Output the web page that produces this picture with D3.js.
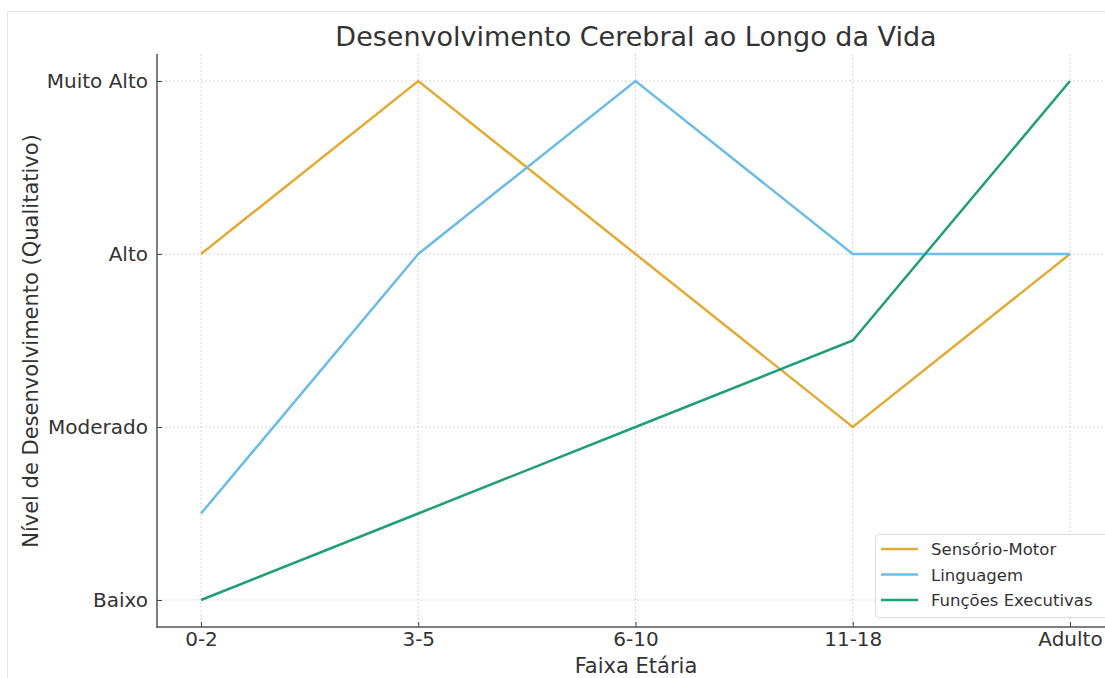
<!DOCTYPE html>
<html><head><meta charset="utf-8">
<script src="https://cdn.jsdelivr.net/npm/d3@7"></script>
<style>body{margin:0;background:#fff;font-family:"DejaVu Sans",sans-serif;}</style>
</head><body>
<svg id="chart" width="1105" height="678"></svg>
<script>
const categories = ["0-2","3-5","6-10","11-18","Adulto"];
const levelLabels = ["Baixo","Moderado","Alto","Muito Alto"];
const levelValues = [1,2,3,4];
const sensorioMotor = [3,4,3,2,3];
const linguagem = [1.5,3,4,3,3];
const funcoesExecutivas = [1,1.5,2,2.5,4];
const seriesNames = ["Sensório-Motor","Linguagem","Funções Executivas"];
const seriesColors = ["#E3AB35","#6BBCE6","#1F9E78"];

(function(){
const series = [sensorioMotor, linguagem, funcoesExecutivas].map((v,i)=>({name:seriesNames[i], color:seriesColors[i], values:v}));

const svg = d3.select("#chart");
svg.append("rect").attr("x",7.5).attr("y",11.5).attr("width",1110).attr("height",680)
  .attr("fill","none").attr("stroke","#e6e6e6");

const x = d3.scalePoint().domain(categories).range([201,1070]);
const y = d3.scaleLinear().domain([1,4]).range([600,81]);

const pLeft = 157, pBottom = 627, pTop = 54, pRight = 1105;

const g = svg.append("g");
g.selectAll(".vg").data(categories).join("line")
  .attr("x1",d=>x(d)).attr("x2",d=>x(d)).attr("y1",pTop).attr("y2",pBottom)
  .attr("stroke","#d6d6d6").attr("stroke-dasharray","2,2").attr("stroke-width",1);
g.selectAll(".hg").data(levelValues).join("line")
  .attr("y1",d=>y(d)).attr("y2",d=>y(d)).attr("x1",pLeft).attr("x2",pRight)
  .attr("stroke","#d6d6d6").attr("stroke-dasharray","2,2").attr("stroke-width",1);

const line = d3.line().x((d,i)=>x(categories[i])).y(d=>y(d));
svg.selectAll(".series").data(series).join("path")
  .attr("d",d=>line(d.values)).attr("fill","none")
  .attr("stroke",d=>d.color).attr("stroke-width",2.5).attr("stroke-linejoin","miter");

const yAxis = d3.axisLeft(y).tickValues(levelValues).tickFormat((d,i)=>levelLabels[i]).tickSize(-5).tickPadding(9);
const ya = svg.append("g").attr("transform",`translate(${pLeft},0)`).call(yAxis);
ya.select(".domain").remove();
ya.selectAll("text").attr("font-size",20).attr("fill","#333").attr("font-family","DejaVu Sans");
ya.selectAll("line").attr("stroke","#444");
svg.append("line").attr("x1",pLeft).attr("x2",pLeft).attr("y1",pTop).attr("y2",pBottom+1).attr("stroke","#555").attr("stroke-width",1.5);

const xAxis = d3.axisBottom(x).tickSize(-5).tickPadding(5);
const xa = svg.append("g").attr("transform",`translate(0,${pBottom})`).call(xAxis);
xa.select(".domain").remove();
xa.selectAll("text").attr("font-size",20).attr("fill","#333").attr("font-family","DejaVu Sans");
xa.selectAll("line").attr("stroke","#444");
svg.append("line").attr("x1",pLeft).attr("x2",pRight).attr("y1",pBottom).attr("y2",pBottom).attr("stroke","#555").attr("stroke-width",1.5);

svg.append("text").attr("x",636).attr("y",46).attr("text-anchor","middle")
  .attr("font-size",27).attr("fill","#333").text("Desenvolvimento Cerebral ao Longo da Vida");
svg.append("text").attr("x",636).attr("y",673).attr("text-anchor","middle")
  .attr("font-size",21).attr("fill","#333").text("Faixa Etária");
svg.append("text").attr("transform","translate(38,341) rotate(-90)").attr("text-anchor","middle")
  .attr("font-size",21).attr("fill","#333").text("Nível de Desenvolvimento (Qualitativo)");

const lg = svg.append("g").attr("transform","translate(875,534)");
lg.append("rect").attr("x",0.5).attr("y",0.5).attr("width",235).attr("height",83).attr("rx",3)
  .attr("fill","#fff").attr("fill-opacity",0.85).attr("stroke","#ddd");
const items = lg.selectAll(".it").data(series).join("g").attr("transform",(d,i)=>`translate(0,${15+i*25.5})`);
items.append("line").attr("x1",6).attr("x2",43).attr("stroke",d=>d.color).attr("stroke-width",2.5);
items.append("text").attr("x",56).attr("y",6).attr("font-size",16.5).attr("fill","#333").text(d=>d.name);
})();
</script>
</body></html>
